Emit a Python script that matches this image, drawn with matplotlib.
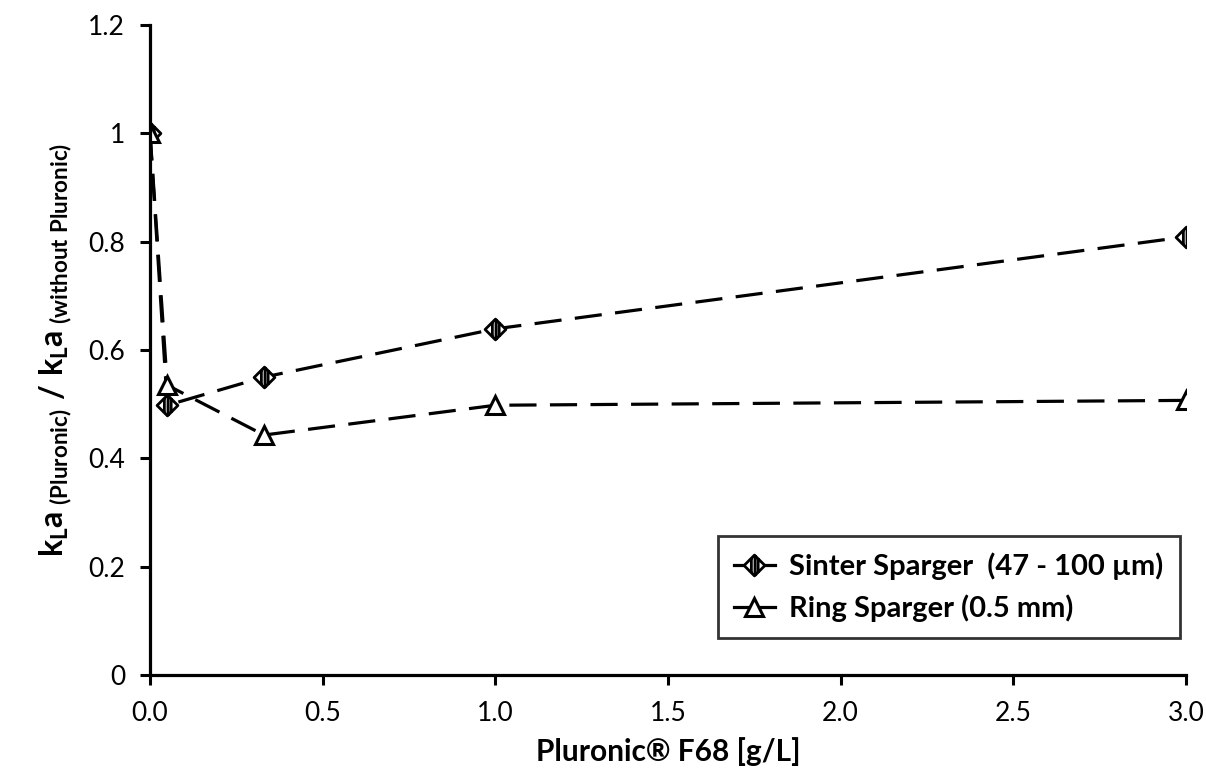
import numpy as np
import matplotlib
matplotlib.use("Agg")
import matplotlib.pyplot as plt
from matplotlib.path import Path

# ── data ─────────────────────────────────────────────────────────────────────
conc = [0.0, 0.05, 0.33, 1.0, 3.0]
sinter = [1.0, 0.498, 0.550, 0.639, 0.809]
ring = [1.0, 0.535, 0.443, 0.498, 0.507]

x_ticks = [0.0, 0.5, 1.0, 1.5, 2.0, 2.5, 3.0]
y_ticks = [0, 0.2, 0.4, 0.6, 0.8, 1.0, 1.2]
y_ticklabels = ["0", "0.2", "0.4", "0.6", "0.8", "1", "1.2"]

plt.rcParams.update({
    "font.family": ["Lato", "DejaVu Sans"],
    "mathtext.fontset": "custom",
    "mathtext.rm": "Lato:weight=bold",
    "mathtext.bf": "Lato:weight=bold",
    "mathtext.it": "Lato:weight=bold",
    "mathtext.default": "bf",
})

# diamond with vertical hatch lines as one marker path
verts = [(0, 1), (1, 0), (0, -1), (-1, 0), (0, 1),
         (-0.3, 0.7), (-0.3, -0.7),
         (0.05, 0.95), (0.05, -0.95),
         (0.35, 0.65), (0.35, -0.65)]
codes = [Path.MOVETO, Path.LINETO, Path.LINETO, Path.LINETO, Path.CLOSEPOLY,
         Path.MOVETO, Path.LINETO,
         Path.MOVETO, Path.LINETO,
         Path.MOVETO, Path.LINETO]
hatched_diamond = Path(verts, codes)

fig = plt.figure(figsize=(12.06, 7.74), dpi=100)
ax = fig.add_axes([0.1244, 0.1279, 0.8590, 0.8398])

LW = 2.3
ax.plot(conc, sinter, color="black", lw=LW, dashes=(8.5, 4.2),
        marker=hatched_diamond, ms=15, mfc="white", mec="black", mew=2.0,
        label="Sinter Sparger  (47 - 100 µm)", zorder=3)
ax.plot(conc, ring, color="black", lw=LW, dashes=(8.5, 4.2),
        marker="^", ms=13, mfc="white", mec="black", mew=2.2,
        label="Ring Sparger (0.5 mm)", zorder=3)

ax.set_xlim(0, 3.0)
ax.set_ylim(0, 1.2)
ax.set_xticks(x_ticks)
ax.set_xticklabels([f"{v:.1f}" for v in x_ticks])
ax.set_yticks(y_ticks)
ax.set_yticklabels(y_ticklabels)
ax.tick_params(direction="out", length=7, width=2.2, labelsize=19,
               colors="black")
ax.tick_params(axis="x", pad=12)
ax.tick_params(axis="y", pad=11)

for s in ["top", "right"]:
    ax.spines[s].set_visible(False)
for s in ["left", "bottom"]:
    ax.spines[s].set_linewidth(2.3)
ax.spines["left"].set_zorder(4)

ax.set_xlabel("Pluronic® F68 [g/L]", fontsize=21.5, fontweight="bold", labelpad=8)
ax.set_ylabel(r"$\mathbf{k_{L}a_{\ (Pluronic)}\ /\ k_{L}a_{\ (without\ Pluronic)}}$",
              fontsize=23, fontweight="bold", labelpad=10)

leg = ax.legend(loc="lower right", bbox_to_anchor=(0.994, 0.057),
                borderaxespad=0, frameon=True, fancybox=False, edgecolor="black",
                handlelength=1.4, handletextpad=0.5, borderpad=0.55,
                labelspacing=0.5, prop={"weight": "bold", "size": 21})
leg.get_frame().set_linewidth(2.0)
for h in leg.legend_handles:
    h.set_linestyle("-")

fig.savefig("out.png", dpi=100, facecolor="white")
